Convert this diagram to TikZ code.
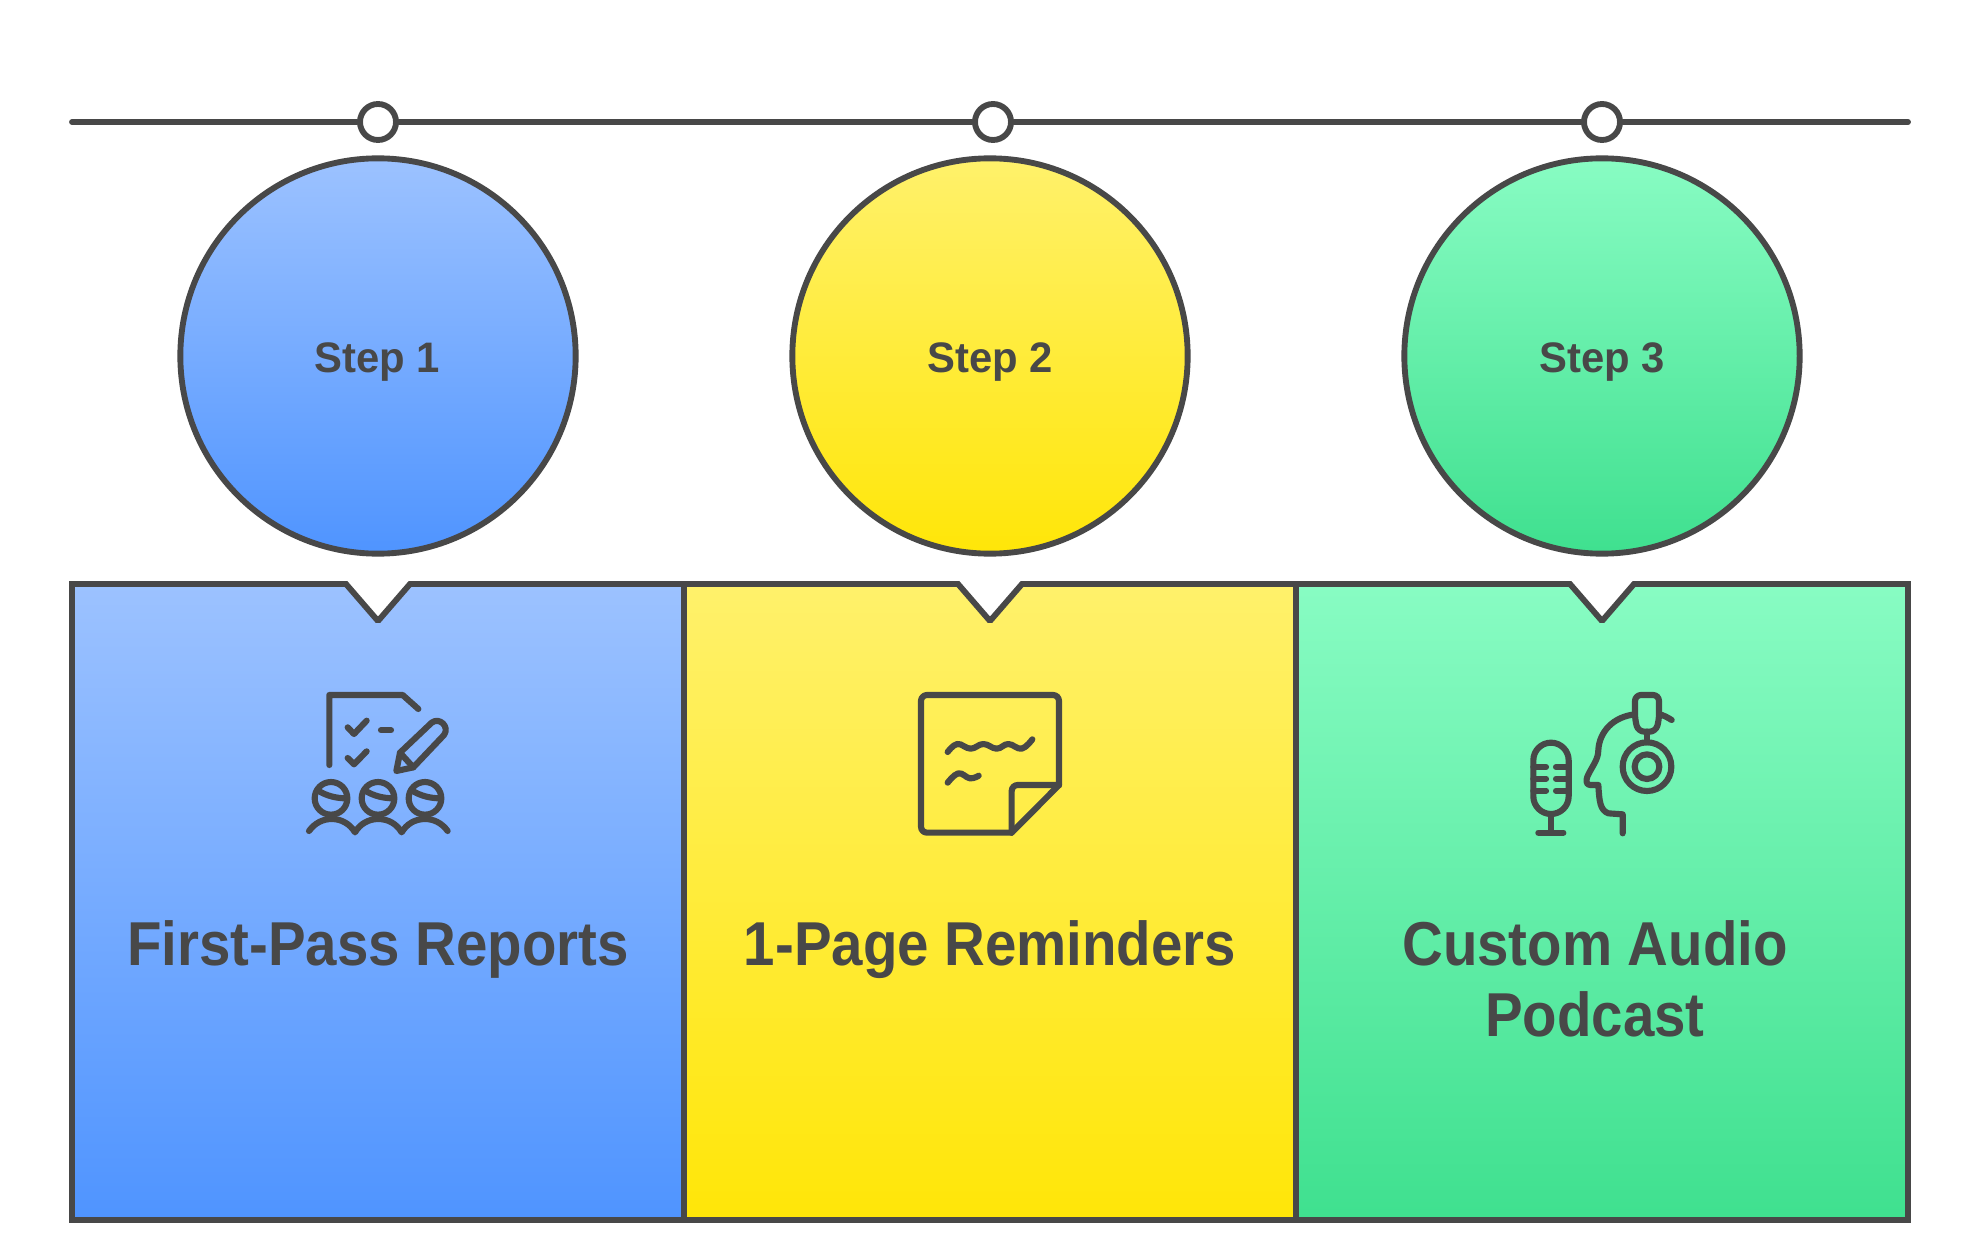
\documentclass[tikz,border=0pt]{standalone}
\usepackage{fontspec}
\setmainfont{Liberation Sans}
\newfontfamily\titlefont[FakeStretch=0.91]{Liberation Sans}
\newfontfamily\stepfont[FakeStretch=0.98]{Liberation Sans}
\definecolor{ink}{HTML}{484848}
\definecolor{blueT}{HTML}{9CC2FF}
\definecolor{blueB}{HTML}{4F94FF}
\definecolor{yelT}{HTML}{FFF16B}
\definecolor{yelB}{HTML}{FFE608}
\definecolor{grnT}{HTML}{88FCC3}
\definecolor{grnB}{HTML}{3FE08F}
\tikzset{
  rail/.style={draw=ink,line width=4.4pt,line cap=round},
  dot/.style={circle,draw=ink,fill=white,line width=4.4pt,minimum size=27pt,inner sep=0pt},
  bigc/.style={circle,draw=ink,line width=4.4pt,minimum size=296.5pt,inner sep=0pt},
  panel/.style={draw=ink,line width=4.4pt,line join=miter,miter limit=1.45},
  title/.style={font=\titlefont\bfseries\fontsize{46.5}{50}\selectfont,text=ink,inner sep=0pt,anchor=base},
  steplabel/.style={font=\stepfont\bfseries\fontsize{32}{36}\selectfont,text=ink,inner sep=0pt,anchor=base},
  blueF/.style={top color=blueT,bottom color=blueB},
  yelF/.style={top color=yelT,bottom color=yelB},
  grnF/.style={top color=grnT,bottom color=grnB},
  ic/.style={draw=ink,line width=4.6pt,line cap=round,line join=round},
}
\begin{document}
\begin{tikzpicture}[x=0.75pt,y=-0.75pt]
\useasboundingbox (0,0) rectangle (1980,1255);
\fill[white] (0,0) rectangle (1980,1255);
% timeline
\coordinate (ls) at (72,122);
\coordinate (le) at (1908,122);
\node[dot] (d1) at (378,122) {};
\node[dot] (d2) at (993,122) {};
\node[dot] (d3) at (1602,122) {};
\draw[rail] (ls) -- (d1);
\draw[rail] (d1) -- (d2);
\draw[rail] (d2) -- (d3);
\draw[rail] (d3) -- (le);
% circles
\node[bigc,blueF] (c1) at (378,356) {};
\node[bigc,yelF] (c2) at (990,356) {};
\node[bigc,grnF] (c3) at (1602,356) {};
\node[steplabel] (s1) at (377,372) {Step 1};
\node[steplabel] (s2) at (990,372) {Step 2};
\node[steplabel] (s3) at (1602,372) {Step 3};
% panels
\path[panel,blueF] (72,584) -- (346,584) -- (378,621) -- (410,584) -- (684,584) -- (684,1220) -- (72,1220) -- cycle;
\path[panel,yelF] (684,584) -- (958,584) -- (990,621) -- (1022,584) -- (1296,584) -- (1296,1220) -- (684,1220) -- cycle;
\path[panel,grnF] (1296,584) -- (1570,584) -- (1602,621) -- (1634,584) -- (1908,584) -- (1908,1220) -- (1296,1220) -- cycle;
\node[title] (t1) at (378,965) {First-Pass Reports};
\node[title] (t2) at (990,965) {1-Page Reminders};
\node[title] (t3) at (1595,965) {Custom Audio};
\node[title] (t4) at (1595,1036) {Podcast};
% icon 1
\begin{scope}[shift={(280,670)},x=0.25pt,y=-0.25pt]
\draw[ic] (148,285) -- (148,75) -- (368,75) -- (415,117);
\draw[ic] (203,172) -- (222,192) -- (260,152);
\draw[ic] (303,181) -- (333,181);
\draw[ic] (203,264) -- (222,283) -- (260,244);
\draw[ic] (349,303) -- (360,248) -- (455,158) .. controls (478,140) and (510,170) .. (492,195) -- (400,292) -- cycle;
\draw[ic] (360,248) -- (400,292);
\draw[ic] (153,385) circle[radius=49];
\draw[ic] (294,385) circle[radius=49];
\draw[ic] (435,385) circle[radius=49];
\draw[ic] (115,362) .. controls (140,378) and (170,385) .. (200,385);
\draw[ic] (256,362) .. controls (281,378) and (311,385) .. (341,385);
\draw[ic] (397,362) .. controls (422,378) and (452,385) .. (482,385);
\draw[ic] (87,483) .. controls (105,458) and (130,447) .. (155,447) .. controls (185,447) and (210,462) .. (225,487)
  .. controls (240,462) and (265,447) .. (295,447) .. controls (325,447) and (350,462) .. (365,487)
  .. controls (380,462) and (405,447) .. (435,447) .. controls (460,447) and (485,458) .. (503,483);
\end{scope}
% icon 2
\begin{scope}[shift={(900,670)},x=0.25pt,y=-0.25pt]
\draw[ic,rounded corners=4.5pt] (335,488) -- (63,488) -- (63,75) -- (477,75) -- (477,345);
\draw[ic] (477,345) -- (335,488);
\draw[ic,rounded corners=4.5pt] (477,345) -- (335,345) -- (335,488);
\draw[ic] plot[smooth,tension=0.7] coordinates {(143,246) (172,222) (212,236) (250,222) (290,236) (325,222) (365,236) (397,208)};
\draw[ic] plot[smooth,tension=0.7] coordinates {(143,338) (175,310) (210,325) (236,317)};
\end{scope}
% icon 3
\begin{scope}[shift={(1510,670)},x=0.25pt,y=-0.25pt]
\draw[ic] (70,271) arc[start angle=180,end angle=0,radius=13.25pt] -- (176,379) arc[start angle=0,end angle=-180,radius=13.25pt] -- cycle;
\foreach \yy in {291,326,362} {
  \draw[ic] (70,\yy) -- (108,\yy);
  \draw[ic] (138,\yy) -- (176,\yy);
}
\draw[ic] (123,432) -- (123,488);
\draw[ic] (85,488) -- (160,488);
\draw[ic] (338,490) -- (338,433) -- (295,430) .. controls (270,420) and (268,395) .. (265,345) -- (240,345) .. controls (228,345) and (228,330) .. (232,320) .. controls (245,290) and (265,270) .. (265,240) .. controls (268,185) and (310,140) .. (375,133);
\draw[ic,rounded corners=4.5pt] (411,185) -- (385,185) -- (375,150) -- (375,75) -- (447,75) -- (447,150) -- (437,185) -- (411,185);
\draw[ic] (411,185) -- (411,217);
\draw[ic] (411,290) circle[radius=73];
\draw[ic] (411,290) circle[radius=37];
\draw[ic] (447,133) .. controls (460,135) and (472,142) .. (485,150);
\end{scope}
\end{tikzpicture}
\end{document}
